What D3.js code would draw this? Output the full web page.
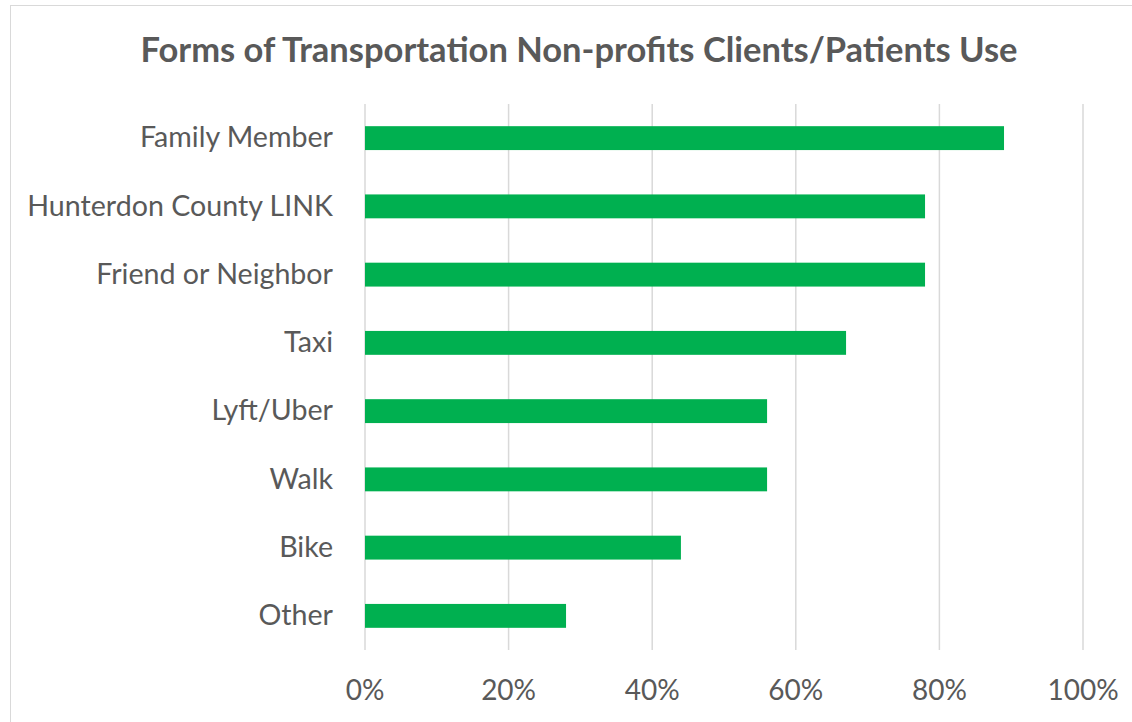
<html>
<head>
<script src="https://cdnjs.cloudflare.com/ajax/libs/d3/7.8.5/d3.min.js"></script>
<style>
    body { margin: 0; background: #fff; }
    svg { display: block; }
    .cat text { fill: #595959; font-size: 28.6px; font-family: Lato, "Open Sans", sans-serif; }
    .tick-lbl { fill: #595959; font-size: 28px; font-family: Lato, "Open Sans", sans-serif; }
    .title { fill: #595959; font-size: 34.5px; font-weight: bold; font-family: Lato, "Open Sans", sans-serif; }
</style>
</head>
<body>
<script>
    // data
    var categories = ["Family Member", "Hunterdon County LINK", "Friend or Neighbor", "Taxi", "Lyft/Uber", "Walk", "Bike", "Other"];
    var shares = [0.89, 0.78, 0.78, 0.67, 0.56, 0.56, 0.44, 0.28];
    var tickValues = [0, 0.2, 0.4, 0.6, 0.8, 1.0];

    var width = 1132, height = 722;
    var plotLeft = 365, plotRight = 1083, plotTop = 104, plotBottom = 650;

    var svg = d3.select("body").append("svg")
        .attr("width", width)
        .attr("height", height);

    // chart border
    svg.append("rect")
        .attr("x", 10.5).attr("y", 5.5)
        .attr("width", width).attr("height", height)
        .attr("fill", "none")
        .attr("stroke", "#d9d9d9");

    svg.append("text")
        .attr("class", "title")
        .attr("x", 579)
        .attr("y", 62)
        .attr("text-anchor", "middle")
        .text("Forms of Transportation Non-profits Clients/Patients Use");

    var x = d3.scaleLinear().domain([0, 1]).range([plotLeft, plotRight]);
    var y = d3.scaleBand().domain(categories).range([plotTop, plotBottom]).paddingInner(0.65).paddingOuter(0.325);

    // gridlines
    svg.append("g").selectAll("line")
        .data(tickValues)
        .join("line")
        .attr("x1", d => x(d)).attr("x2", d => x(d))
        .attr("y1", plotTop).attr("y2", plotBottom)
        .attr("stroke", "#d9d9d9")
        .attr("stroke-width", 1.5);

    // bars
    svg.append("g").selectAll("rect")
        .data(categories)
        .join("rect")
        .attr("x", x(0))
        .attr("y", d => y(d))
        .attr("width", (d, i) => x(shares[i]) - x(0))
        .attr("height", y.bandwidth())
        .attr("fill", "#00b050");

    // category labels
    var yAxis = svg.append("g")
        .attr("class", "cat")
        .attr("transform", "translate(" + (plotLeft - 18) + ",0)")
        .call(d3.axisLeft(y).tickSize(0).tickPadding(14));
    yAxis.select(".domain").remove();

    // tick labels
    svg.append("g").selectAll("text")
        .data(tickValues)
        .join("text")
        .attr("class", "tick-lbl")
        .attr("x", d => x(d))
        .attr("y", 700)
        .attr("text-anchor", "middle")
        .text(d3.format(".0%"));
</script>
</body>
</html>
